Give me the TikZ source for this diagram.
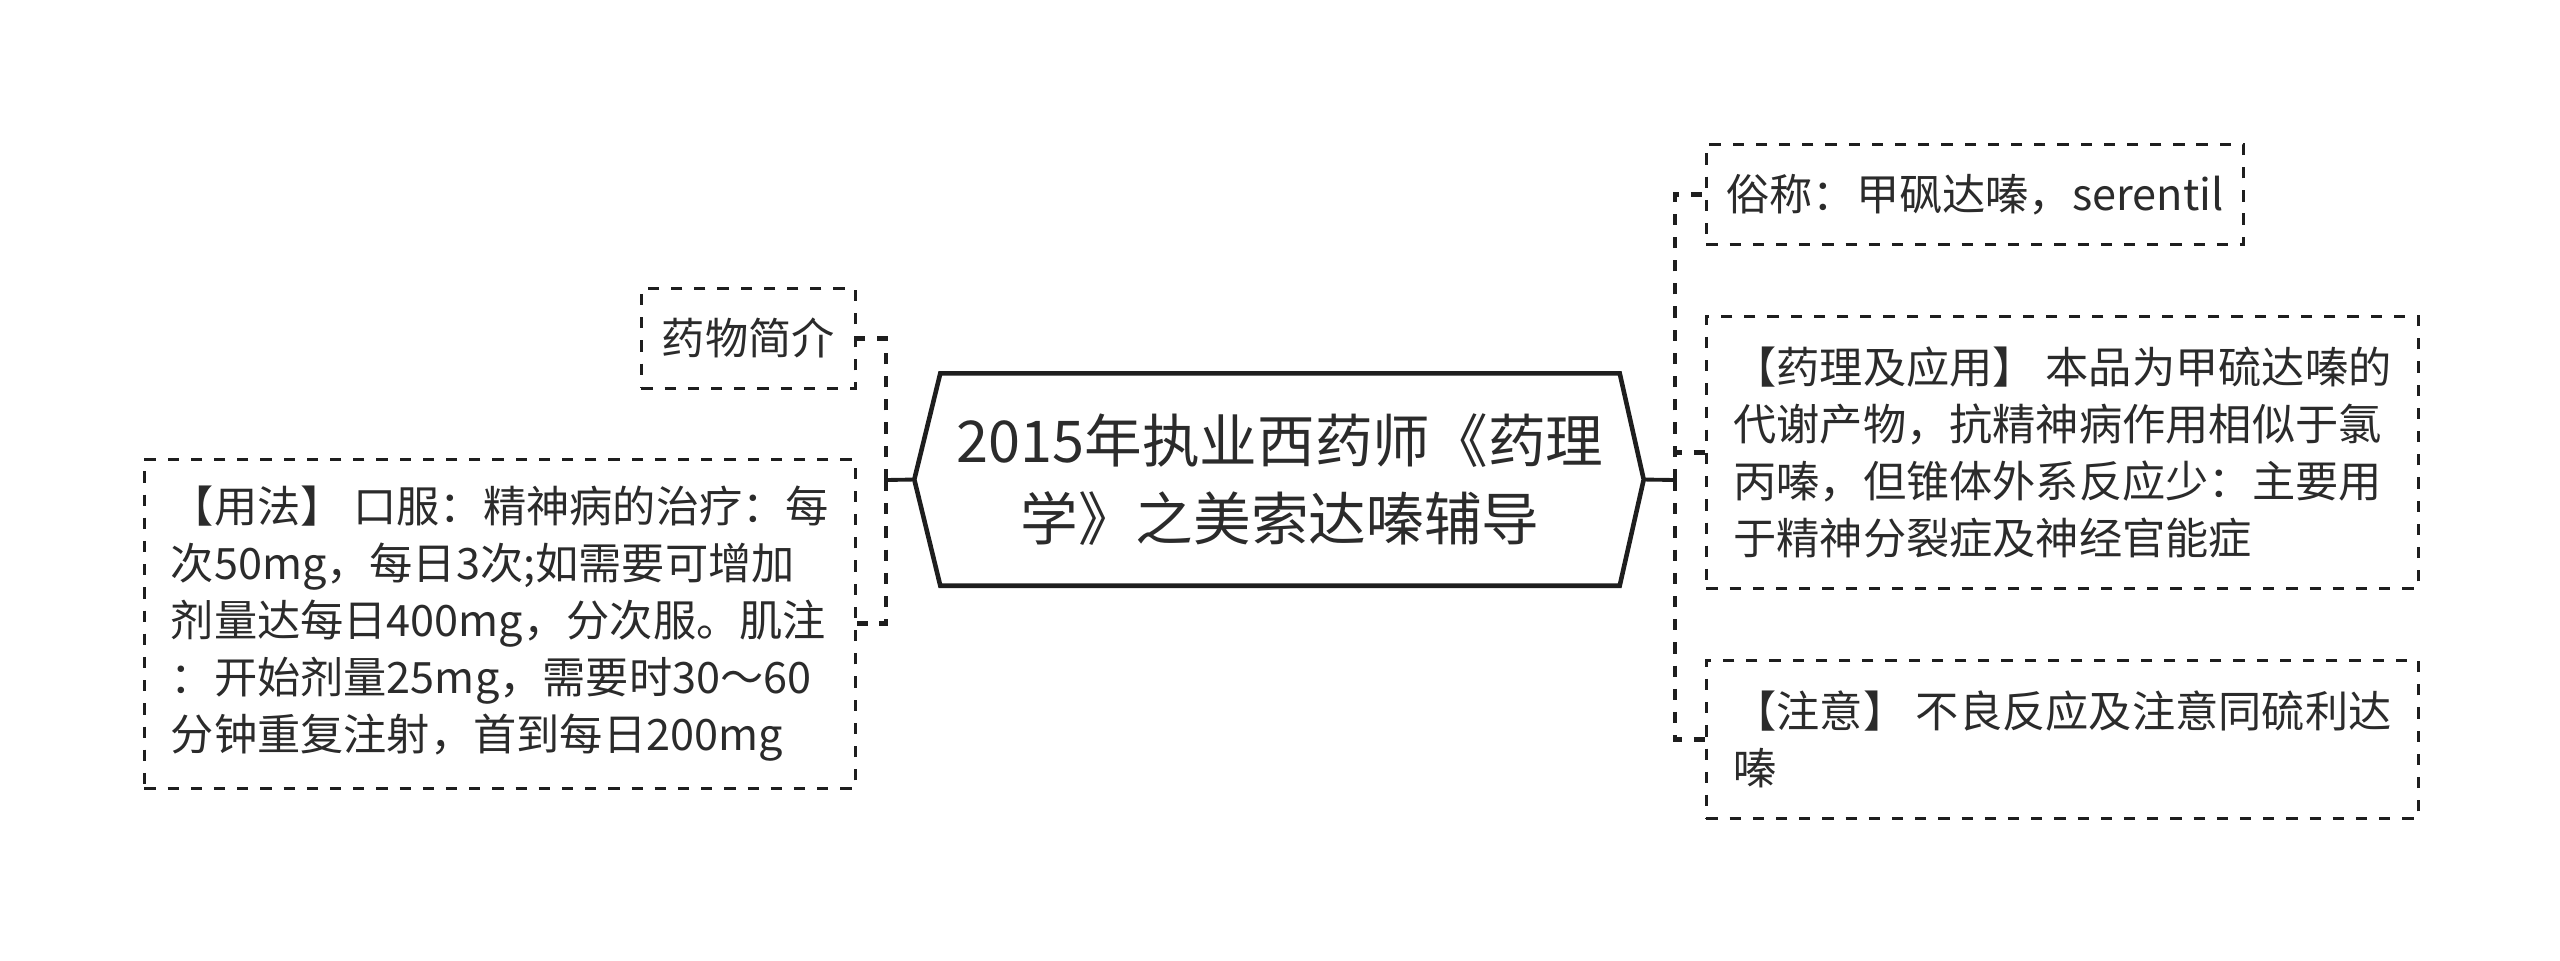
\documentclass[tikz,border=0pt]{standalone}
\usepackage{fontspec}
\setmainfont{Noto Sans CJK SC}
\usetikzlibrary{calc}
\definecolor{ink}{HTML}{2B2B2B}
\definecolor{wire}{HTML}{1E1E1E}

\begin{document}
\begin{tikzpicture}[x=1cm,y=1cm,
  leaf/.style={draw=wire,dash pattern=on 3.2pt off 3.4pt,line width=0.8pt,
    text=ink,align=left,inner sep=0pt,anchor=north west,
    font=\fontsize{12.3pt}{16.2pt}\selectfont},
  link/.style={draw=wire,dash pattern=on 3.2pt off 3.4pt,line width=1.4pt},
  stub/.style={draw=wire,line width=1.1pt}]
\useasboundingbox (0,0) rectangle (25.6,-9.6);

% centre topic
\node[text=ink,align=center,inner sep=0pt,minimum width=6.78cm,minimum height=2.11cm,
      font=\fontsize{16.4pt}{22.2pt}\selectfont] (root) at (12.80,-4.795)
      {2015年执业西药师《药理\\学》之美索达嗪辅导};
\coordinate (rootL) at ($(root.west)+(-0.26,0)$);
\coordinate (rootR) at ($(root.east)+(0.24,0)$);
\draw[wire,line width=1.3pt]
      (rootL) -- (root.north west) -- (root.north east) -- (rootR)
      -- (root.south east) -- (root.south west) -- cycle;

% left side
\node[leaf,minimum width=2.14cm,minimum height=1.00cm] (yaowu) at (6.40,-2.87) {药物简介};
\node[leaf,minimum width=7.11cm,minimum height=3.29cm] (yongfa) at (1.43,-4.58)
      {【用法】 口服：精神病的治疗：每\\次50mg，每日3次;如需要可增加\\剂量达每日400mg，分次服。肌注\\：开始剂量25mg，需要时30～60\\分钟重复注射，首到每日200mg};

% right side
\node[leaf,minimum width=5.37cm,minimum height=1.00cm] (suming) at (17.05,-1.43) {俗称：甲砜达嗪，serentil};
\node[leaf,minimum width=7.12cm,minimum height=2.72cm] (yaoli) at (17.05,-3.15)
      {【药理及应用】 本品为甲硫达嗪的\\代谢产物，抗精神病作用相似于氯\\丙嗪，但锥体外系反应少：主要用\\于精神分裂症及神经官能症};
\node[leaf,minimum width=7.12cm,minimum height=1.58cm] (zhuyi) at (17.05,-6.59)
      {【注意】 不良反应及注意同硫利达\\嗪};

% connectors
\coordinate (lj) at (8.86,-4.80);
\coordinate (rj) at (16.75,-4.80);
\draw[stub] (rootL) -- (lj);
\draw[stub] (rootR) -- (rj);
\draw[link] (lj) |- (yaowu.east);
\draw[link] (lj) |- (yongfa.east);
\draw[link] (rj) |- (suming.west);
\draw[link] (rj) |- (yaoli.west);
\draw[link] (rj) |- (zhuyi.west);
\end{tikzpicture}
\end{document}
